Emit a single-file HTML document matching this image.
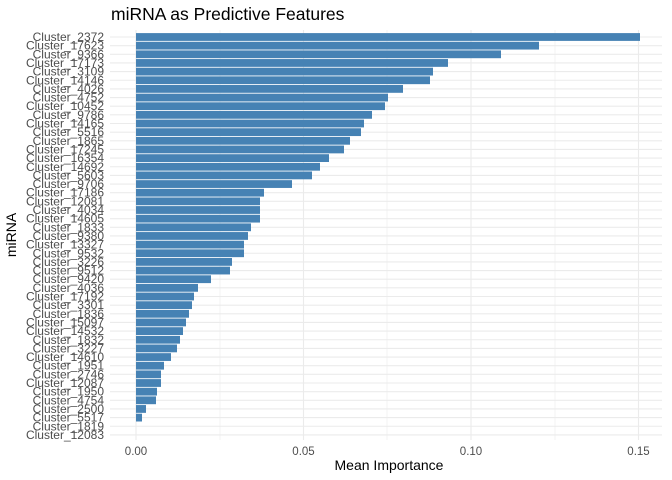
<!DOCTYPE html>
<html><head><style>body{margin:0;background:#fff}svg{display:block;font-family:"Liberation Sans",sans-serif}</style></head><body>
<svg width="672" height="480" viewBox="0 0 672 480" xmlns="http://www.w3.org/2000/svg">
<rect width="672" height="480" fill="#fff"/>
<text x="111" y="20" font-size="17.5" fill="#000">miRNA as Predictive Features</text>
<g stroke="#ebebeb" stroke-width="0.6">
<line x1="220" y1="30" x2="220" y2="440"/><line x1="387" y1="30" x2="387" y2="440"/><line x1="555" y1="30" x2="555" y2="440"/>
</g>
<g stroke="#ebebeb" stroke-width="1.1">
<line x1="136" y1="30" x2="136" y2="440"/><line x1="303.5" y1="30" x2="303.5" y2="440"/><line x1="471" y1="30" x2="471" y2="440"/><line x1="638.5" y1="30" x2="638.5" y2="440"/>
</g>
<g id="h" stroke="#ebebeb" stroke-width="1.1"></g>
<g id="bars" fill="#4682b4"></g>
<g id="labs" font-size="12" fill="#4d4d4d" text-anchor="end"></g>
<g font-size="11.5" fill="#4d4d4d" text-anchor="middle">
<text x="136" y="455">0.00</text><text x="303.5" y="455">0.05</text><text x="471" y="455">0.10</text><text x="638.5" y="455">0.15</text>
</g>
<text x="389" y="470" font-size="14" text-anchor="middle" fill="#000">Mean Importance</text>
<text transform="translate(16,235) rotate(-90)" font-size="14" text-anchor="middle" fill="#000">miRNA</text>
<script>
var d=[["2372",640],["17623",539],["9366",501],["17173",448],["3109",433],["14146",430],["4026",403],["4752",388],["10452",385],["9786",372],["14165",364],["5516",361],["1865",350],["17245",344],["16354",329],["14692",320],["5603",312],["9706",292],["17186",264],["12081",260],["4034",260],["14605",260],["1833",251],["9380",248],["13327",244],["9532",244],["3226",232],["9512",230],["9420",211],["4036",198],["17192",194],["3301",192],["1836",189],["15097",186],["14532",183],["1832",180],["3227",177],["14610",171],["1951",164],["2746",161],["12087",161],["1950",157],["4754",156],["2500",146],["5517",142],["1819",136],["12083",136]];
var ns="http://www.w3.org/2000/svg",h=document.getElementById("h"),b=document.getElementById("bars"),l=document.getElementById("labs");
d.forEach(function(e,i){var c=37+8.65*i;
var ln=document.createElementNS(ns,"line");ln.setAttribute("x1",110);ln.setAttribute("x2",662);ln.setAttribute("y1",c);ln.setAttribute("y2",c);h.appendChild(ln);
if(e[1]>136){var r=document.createElementNS(ns,"rect");r.setAttribute("x",136);r.setAttribute("y",c-3.9);r.setAttribute("width",e[1]-136);r.setAttribute("height",7.8);b.appendChild(r);}
var t=document.createElementNS(ns,"text");t.setAttribute("x",104);t.setAttribute("y",c+4);t.textContent="Cluster_"+e[0];l.appendChild(t);});
</script>
</svg>
</body></html>
